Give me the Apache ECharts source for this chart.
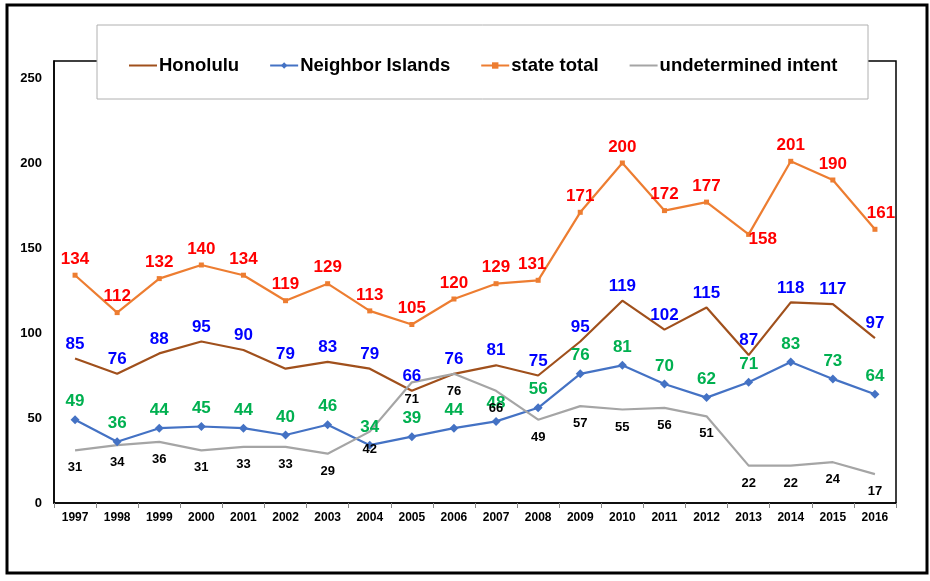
<!DOCTYPE html>
<html>
<head>
<meta charset="utf-8">
<script src="https://cdn.jsdelivr.net/npm/echarts@6/dist/echarts.min.js"></script>
<style>
  html, body { margin: 0; padding: 0; background: #fff; }
  #chart { width: 930px; height: 581px; }
</style>
</head>
<body>
<div id="chart"></div>
<script>
// data
const years = ["1997", "1998", "1999", "2000", "2001", "2002", "2003", "2004", "2005", "2006",
  "2007", "2008", "2009", "2010", "2011", "2012", "2013", "2014", "2015", "2016"]
const honolulu = [85, 76, 88, 95, 90, 79, 83, 79, 66, 76, 81, 75, 95, 119, 102, 115, 87, 118, 117, 97]
const neighbor = [49, 36, 44, 45, 44, 40, 46, 34, 39, 44, 48, 56, 76, 81, 70, 62, 71, 83, 73, 64]
const stateTotal = [134, 112, 132, 140, 134, 119, 129, 113, 105, 120, 129, 131, 171, 200, 172, 177, 158, 201, 190, 161]
const undetermined = [31, 34, 36, 31, 33, 33, 29, 42, 71, 76, 66, 49, 57, 55, 56, 51, 22, 22, 24, 17]
const yTicks = [0, 50, 100, 150, 200, 250]

const font = "'Liberation Sans', Arial, sans-serif"

let myChart = echarts.init(document.getElementById("chart"))

// a few state total labels are nudged off the default spot
const stateLabelTweaks = {
  "2008": { offset: [-6, 0] },
  "2013": { position: "bottom", distance: 0, offset: [14, -6] },
  "2016": { offset: [6, 0] },
}
const stateData = stateTotal.map((v, i) =>
  stateLabelTweaks[years[i]] ? { value: v, label: stateLabelTweaks[years[i]] } : v
)

function lbl(color, size, pos, dist) {
  return {
    show: true,
    position: pos,
    distance: dist,
    color: color,
    fontSize: size,
    fontWeight: "bold",
    fontFamily: font,
  }
}

myChart.setOption({
  animation: false,
  backgroundColor: "#fff",
  textStyle: { fontFamily: font },
  graphic: [
    {
      type: "rect",
      z: 100,
      shape: { x: 7, y: 5, width: 920, height: 568 },
      style: { fill: "none", stroke: "#000", lineWidth: 3 },
    },
    {
      type: "rect",
      z: 50,
      shape: { x: 97, y: 25, width: 771, height: 74 },
      style: { fill: "#fff", stroke: "#b0b0b0", lineWidth: 1 },
    },
  ],
  legend: {
    z: 60,
    top: 51,
    left: 123,
    itemGap: 30,
    itemWidth: 28,
    itemHeight: 8,
    textStyle: {
      fontSize: 18.5,
      fontWeight: "bold",
      color: "#000",
      fontFamily: font,
      padding: [0, 0, 0, -3],
    },
    data: [
      { name: "Honolulu", itemStyle: { opacity: 0 } },
      { name: "Neighbor Islands" },
      { name: "state total" },
      { name: "undetermined intent", itemStyle: { opacity: 0 } },
    ],
  },
  grid: {
    left: 54,
    right: 34,
    top: 61,
    bottom: 78,
    show: true,
    borderColor: "#000",
    borderWidth: 1.5,
  },
  xAxis: {
    type: "category",
    data: years,
    boundaryGap: true,
    axisLine: { lineStyle: { color: "#000", width: 1.5 } },
    axisTick: { show: true, length: 5, lineStyle: { color: "#888" } },
    axisLabel: { color: "#000", fontSize: 12, fontWeight: "bold", margin: 9, interval: 0 },
    splitLine: { show: false },
  },
  yAxis: {
    type: "value",
    min: yTicks[0],
    max: 260,
    interval: 50,
    axisLine: { show: true, lineStyle: { color: "#000", width: 1.5 } },
    axisTick: { show: false },
    axisLabel: { color: "#000", fontSize: 13, fontWeight: "bold", margin: 12, showMaxLabel: false },
    splitLine: { show: false },
  },
  series: [
    {
      name: "Honolulu",
      type: "line",
      data: honolulu,
      color: "#a0501c",
      lineStyle: { width: 2.2, color: "#a0501c" },
      symbol: "circle",
      symbolSize: 0.1,
      itemStyle: { color: "#a0501c" },
      label: lbl("#0000ff", 17, "top", 6),
    },
    {
      name: "Neighbor Islands",
      type: "line",
      data: neighbor,
      color: "#4472c4",
      lineStyle: { width: 2.2, color: "#4472c4" },
      symbol: "diamond",
      symbolSize: 9,
      itemStyle: { color: "#4472c4" },
      label: lbl("#00b050", 17, "top", 5),
    },
    {
      name: "state total",
      type: "line",
      data: stateData,
      color: "#ed7d31",
      lineStyle: { width: 2.2, color: "#ed7d31" },
      symbol: "rect",
      symbolSize: 5,
      itemStyle: { color: "#ed7d31" },
      label: lbl("#ff0000", 17, "top", 5),
    },
    {
      name: "undetermined intent",
      type: "line",
      data: undetermined,
      color: "#a5a5a5",
      lineStyle: { width: 2.2, color: "#a5a5a5" },
      symbol: "circle",
      symbolSize: 0.1,
      itemStyle: { color: "#a5a5a5" },
      label: lbl("#000", 13, "bottom", 11),
    },
  ],
})
</script>
</body>
</html>
